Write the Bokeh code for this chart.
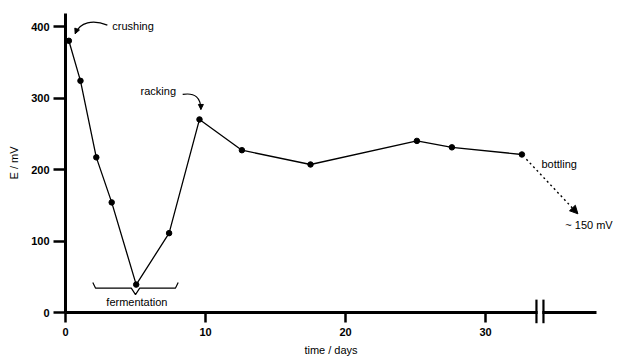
from bokeh.plotting import figure
from bokeh.models import (Label, Arrow, NormalHead, BoxAnnotation, FixedTicker,
                          Range1d, LinearAxis)
from bokeh.embed import file_html
from bokeh.resources import INLINE

# ---- data ----
time_days = [0.24, 1.07, 2.2, 3.3, 5.05, 7.4, 9.57, 12.6, 17.5, 25.1, 27.6, 32.6]
e_mv = [380, 324, 217, 154, 39, 111, 270, 227, 207, 240, 231, 221]

x_ticks = [0, 10, 20, 30]
y_ticks = [0, 100, 200, 300, 400]
x_axis_end = 37.9
y_axis_end = 418
axis_break = [33.64, 34.14]          # the "||" break on the time axis
after_bottling = [36.6, 138]         # arrow tip towards ~150 mV
fermentation_span = [1.95, 8.05]      # brace under the fermentation dip

FONT = "Liberation Sans"

W, H = 621, 356
PX_PER_DAY = 14.0
PX_PER_MV = 0.715
X0_PX, Y0_PX = 65, 312
x_lo = -X0_PX / PX_PER_DAY
y_hi = Y0_PX / PX_PER_MV

p = figure(width=W, height=H,
           x_range=Range1d(x_lo, x_lo + W / PX_PER_DAY),
           y_range=Range1d(y_hi - H / PX_PER_MV, y_hi),
           output_backend="svg", toolbar_location=None,
           x_axis_type=None, y_axis_type=None, min_border=0)
p.outline_line_color = None
p.grid.visible = False
p.background_fill_color = "white"
p.border_fill_color = "white"

xaxis = LinearAxis(fixed_location=0, bounds=(0, x_axis_end),
                   ticker=FixedTicker(ticks=x_ticks), axis_label="time / days")
yaxis = LinearAxis(fixed_location=0, bounds=(0, y_axis_end),
                   ticker=FixedTicker(ticks=y_ticks), axis_label="E / mV")
for ax in (xaxis, yaxis):
    ax.axis_line_width = 3
    ax.axis_line_color = "black"
    ax.major_tick_line_width = 2.5
    ax.major_tick_line_color = "black"
    ax.major_tick_in = 0
    ax.minor_tick_line_color = None
    ax.major_label_text_font = FONT
    ax.major_label_text_font_size = "11px"
    ax.major_label_text_font_style = "bold"
    ax.major_label_text_color = "black"
    ax.axis_label_text_font = FONT
    ax.axis_label_text_font_size = "11px"
    ax.axis_label_text_font_style = "normal"
    ax.axis_label_text_color = "black"
xaxis.major_tick_out = 10
yaxis.major_tick_out = 12
xaxis.major_label_standoff = 5
yaxis.major_label_standoff = 4
xaxis.axis_label_standoff = 5
yaxis.axis_label_standoff = 8
p.add_layout(xaxis, "below")
p.add_layout(yaxis, "left")

# ---- data series ----
p.line(time_days, e_mv, line_color="black", line_width=1.3)
p.scatter(time_days, e_mv, size=5.5, fill_color="black", line_color="black")

# ---- axis break ----
p.add_layout(BoxAnnotation(left=axis_break[0] + 0.08, right=axis_break[1] - 0.08,
                           bottom=-8, top=8, fill_color="white", fill_alpha=1,
                           line_color=None, level="overlay"))
for bx in axis_break:
    p.add_layout(Arrow(x_start=bx, y_start=-15, x_end=bx, y_end=18, start=None, end=None,
                       line_color="black", line_width=2.2, level="overlay"))

# ---- curved arrows ----
def curved_arrow(x0, y0, cx0, cy0, cx1, cy1, x1, y1):
    p.bezier(x0=[x0], y0=[y0], x1=[x1], y1=[y1], cx0=[cx0], cy0=[cy0], cx1=[cx1], cy1=[cy1],
             line_color="black", line_width=1.2)
    p.add_layout(Arrow(x_start=x1 - (x1 - cx1) * 0.25, y_start=y1 - (y1 - cy1) * 0.25,
                       x_end=x1, y_end=y1, line_color="black", line_width=1.2,
                       end=NormalHead(size=5, fill_color="black", line_color="black")))

first_x, first_y = time_days[0], e_mv[0]
curved_arrow(first_x + 2.75, first_y + 22, first_x + 1.7, first_y + 30,
             first_x + 0.8, first_y + 26, first_x + 0.45, first_y + 10)

rack_x, rack_y = time_days[6], e_mv[6]
curved_arrow(rack_x - 1.2, rack_y + 35, rack_x - 0.3, rack_y + 38,
             rack_x + 0.1, rack_y + 30, rack_x + 0.1, rack_y + 14)

# ---- bottling dotted arrow ----
last_x, last_y = time_days[-1], e_mv[-1]
sx = last_x + (after_bottling[0] - last_x) * 0.08
sy = last_y + (after_bottling[1] - last_y) * 0.08
p.add_layout(Arrow(x_start=sx, y_start=sy, x_end=after_bottling[0], y_end=after_bottling[1],
                   line_color="black", line_width=1.4, line_dash="2 3",
                   end=NormalHead(size=8, fill_color="black", line_color="black")))

# ---- fermentation brace ----
b0, b1 = fermentation_span
bm = (b0 + b1) / 2
by = 34
brace_x = [b0, b0 + 0.2, bm - 0.3, bm, bm + 0.3, b1 - 0.2, b1]
brace_y = [by + 8, by, by, by - 9, by, by, by + 8]
p.line(brace_x, brace_y, line_color="black", line_width=1.2)

# ---- text labels ----
def label(x, y, text, align="left"):
    p.add_layout(Label(x=x, y=y, text=text, text_font=FONT, text_font_size="11px",
                       text_align=align, text_baseline="alphabetic", text_color="black"))

label(3.34, 401, "crushing")
label(5.36, 310, "racking")
label(34.0, 207, "bottling")
label(35.7, 123, "~ 150 mV")
label(bm + 0.1, 14, "fermentation", align="center")

open("out.html", "w").write(file_html(p, INLINE))
